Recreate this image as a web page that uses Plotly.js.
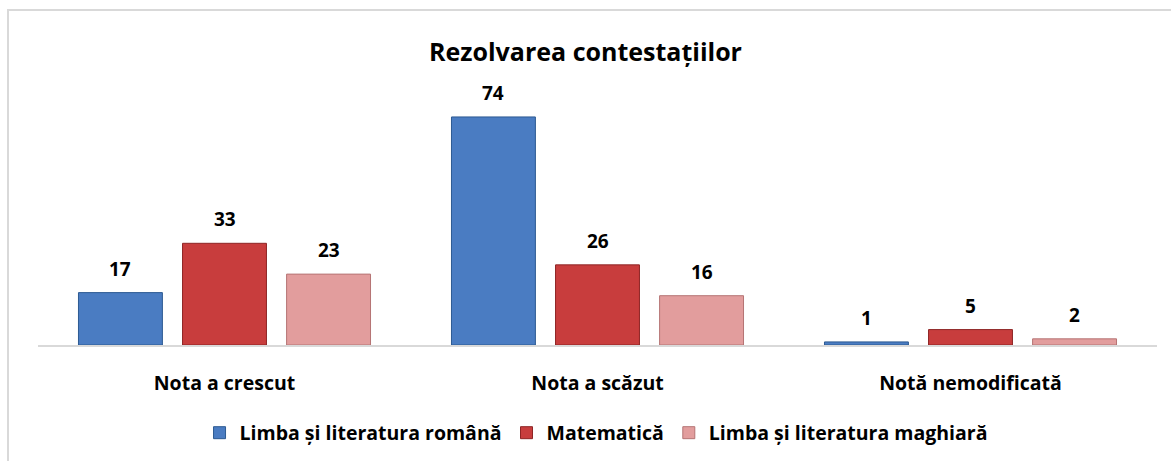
<!DOCTYPE html>
<html>
<head>
<meta charset="utf-8">
<script src="https://cdn.plot.ly/plotly-3.0.1.min.js"></script>
<style>
  html, body { margin: 0; padding: 0; background: #ffffff; }
  #wrap { position: relative; width: 1171px; height: 461px; overflow: hidden; }
  #chart { position: absolute; left: 0; top: 0; width: 1171px; height: 461px; }
  #frame { position: absolute; left: 7px; top: 9px; width: 1200px; height: 500px;
           border-top: 2px solid #d9d9d9; border-left: 2px solid #d9d9d9; pointer-events: none; }
</style>
</head>
<body>
<div id="wrap">
  <div id="chart"></div>
  <div id="frame"></div>
</div>
<script>
const categories = ["Nota a crescut", "Nota a scăzut", "Notă nemodificată"];
const seriesNames = ["Limba și literatura română", "Matematică", "Limba și literatura maghiară"];
const romana = [17, 74, 1];
const matematica = [33, 26, 5];
const maghiara = [23, 16, 2];

const seriesValues = [romana, matematica, maghiara];
const colors = ["#4a7cc2", "#c83d3d", "#e29d9d"];
const lineColors = ["#2d5a92", "#8e2525", "#b57474"];
const offsets = [-0.279, 0, 0.279];
const barWidth = 0.225;
const FONT = "'Open Sans', 'Noto Sans', sans-serif";

const idx = categories.map((c, i) => i);
const traces = seriesValues.map((vals, s) => ({
  type: "bar",
  name: "<b>" + seriesNames[s] + "</b>",
  x: idx.map(i => i + offsets[s]),
  y: vals,
  width: barWidth,
  marker: { color: colors[s], line: { color: lineColors[s], width: 1 } },
  hoverinfo: "skip"
}));

const annotations = [];
seriesValues.forEach((vals, s) => {
  vals.forEach((v, i) => {
    annotations.push({
      x: i + offsets[s], y: v, xref: "x", yref: "y",
      text: "<b>" + v + "</b>", showarrow: false,
      yanchor: "bottom", yshift: 9,
      font: { family: FONT, size: 19, color: "#000000" }
    });
  });
});

const layout = {
  width: 1171, height: 461,
  margin: { l: 38, r: 14, t: 100, b: 116, autoexpand: false },
  paper_bgcolor: "rgba(0,0,0,0)",
  plot_bgcolor: "rgba(0,0,0,0)",
  title: {
    text: "<b>Rezolvarea contestațiilor</b>",
    font: { family: FONT, size: 25, color: "#000000" },
    x: 0.5, xref: "container", xanchor: "center",
    y: 1 - 52 / 461, yref: "container", yanchor: "middle"
  },
  barmode: "overlay",
  showlegend: true,
  legend: {
    orientation: "h", x: 0.509, xanchor: "center", xref: "container",
    y: 1 - 433 / 461, yanchor: "middle", yref: "container",
    font: { family: FONT, size: 19.5, color: "#000000" },
    itemclick: false, itemdoubleclick: false,
    traceorder: "normal"
  },
  xaxis: {
    range: [-0.5, 2.5],
    tickmode: "array",
    tickvals: idx,
    ticktext: categories.map(c => "<b>" + c + "</b>"),
    tickfont: { family: FONT, size: 19.5, color: "#000000" },
    ticks: "",
    ticklabelstandoff: 20,
    automargin: false,
    showgrid: false, zeroline: false,
    showline: true, linecolor: "#d9d9d9", linewidth: 2,
    fixedrange: true
  },
  yaxis: {
    range: [0, 79.5],
    visible: false, showgrid: false, zeroline: false,
    automargin: false,
    fixedrange: true
  },
  annotations: annotations
};

Plotly.newPlot("chart", traces, layout, { displayModeBar: false, staticPlot: true });
</script>
</body>
</html>
